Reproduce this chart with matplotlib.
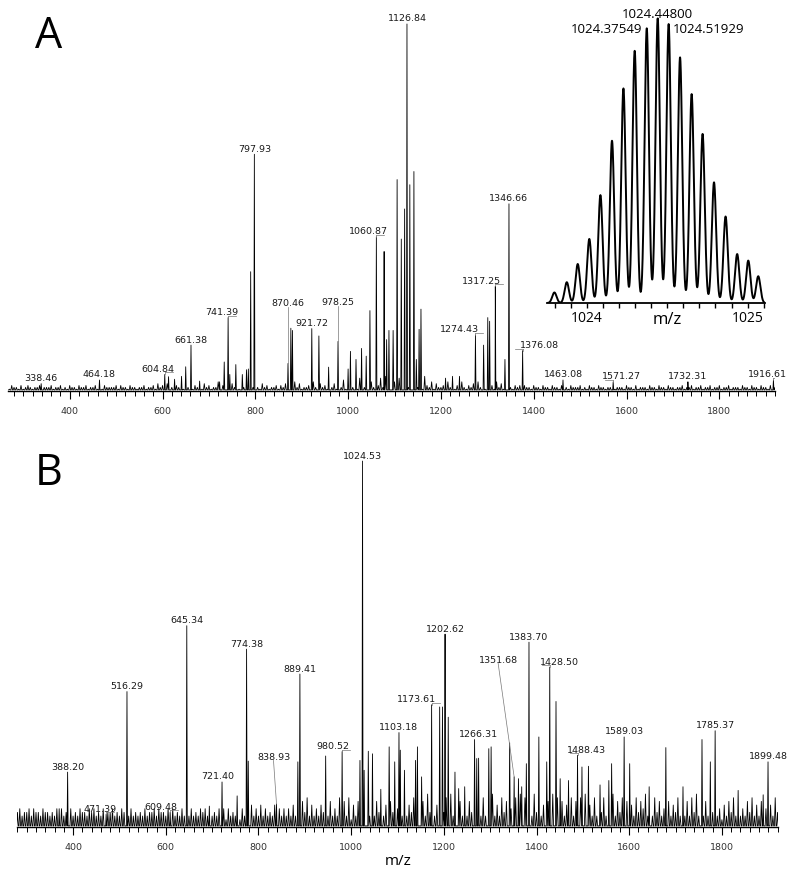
import numpy as np
import matplotlib.pyplot as plt
from matplotlib.ticker import MultipleLocator

plt.rcParams["font.family"] = ["DejaVu Sans"]

# ---------------- 谱图 A ----------------
A_LABELS = ["338.46", "464.18", "604.84", "661.38", "741.39", "797.93", "870.46",
            "921.72", "978.25", "1060.87", "1126.84", "1274.43", "1317.25",
            "1346.66", "1376.08", "1463.08", "1571.27", "1732.31", "1916.61"]
A_LABEL_INT = [2.0, 3.0, 4.5, 12.5, 20, 64.5, 7.5, 17, 13.5, 42, 100, 15.3, 28.5,
               51, 11, 3.0, 2.5, 2.5, 3.0]
# 未标注的峰
A_PEAK_MZ = [613, 626, 641, 650, 680, 723, 733, 745, 758, 772, 781, 785, 790,
             876.6, 880, 937, 958, 1000, 1005, 1017, 1029, 1039, 1047, 1077.6, 1083,
             1088, 1097, 1105.6, 1114.6, 1121.8, 1133, 1141.8, 1147, 1153, 1157,
             1210, 1225, 1240, 1292, 1301, 1305, 1338]
A_PEAK_INT = [3.9, 3.2, 4, 6.6, 2.7, 2.5, 7.9, 4.5, 7.2, 4.5, 5.8, 6, 32.5,
              17.1, 16.5, 15, 6.5, 6, 10.8, 8.6, 11.6, 9.5, 21.9, 38, 14,
              16.5, 16.5, 57.6, 41.4, 49.6, 56.2, 59.8, 8.6, 16.8, 22.3,
              3.5, 4, 4, 12.5, 20, 19, 8.6]
# 基线噪声，从 270 开始每 5 Da 一个点（单位 0.5%）
A_NOISE = ("13221312321223122231" "22312132213223122312" "13222231322132212231"
           "22314231422132412241" "32214231225132214231" "22413252142312231324"
           "23252412232521423152" "41326152241732615223" "72816251732627152418"
           "32514223152413252132" "41526142315241322132" "31322132213221322132"
           "21322231213221322122" "31222132213122213221" "32213221223122312231"
           "22312231223122213221" "32213221322")

# ---------------- 谱图 B ----------------
B_LABELS = ["388.20", "471.39", "516.29", "609.48", "645.34", "721.40", "774.38",
            "838.93", "889.41", "980.52", "1024.53", "1103.18", "1173.61", "1202.62",
            "1266.31", "1351.68", "1383.70", "1428.50", "1488.43", "1589.03",
            "1785.37", "1899.48"]
B_LABEL_INT = [15, 3.5, 37, 4, 55, 12.3, 48.6, 6.3, 41.8, 20.6, 100, 25.8, 33.4, 52.7,
               23.9, 13.7, 50.5, 43.7, 19.6, 24.6, 26.3, 17.8]
B_PEAK_MZ = [370, 694, 754, 778, 885, 945, 1019, 1028, 1037, 1046,
             1064, 1082, 1094, 1106, 1115, 1139, 1143, 1152, 1191, 1197,
             1209.5, 1224, 1232, 1245, 1271, 1275, 1297, 1302, 1342, 1361,
             1368, 1378, 1405, 1422, 1442, 1451, 1469, 1498, 1512, 1537,
             1556, 1562, 1601, 1643, 1679, 1716, 1757, 1775, 1835, 1889]
B_PEAK_INT = [5, 5.7, 8.5, 18, 17.8, 19.4, 18.2, 15.5, 20.7, 20,
              10.3, 21.9, 17.8, 21, 15.5, 18.2, 21.9, 13.7, 32.8, 32.8,
              30, 15, 10.5, 11, 18.7, 18.8, 21.4, 21.9, 23, 13.2,
              11, 17.3, 24.6, 17.8, 34.3, 13.2, 12.7, 16.4, 16.6, 11.5,
              12.7, 17.3, 17.3, 11, 21.7, 11, 23.9, 17.8, 10, 8.8]
# 基线噪声，从 280 开始每 5 Da 一个点（单位 %）
B_NOISE = ("45344535443544343545" "34453435443545343544" "45343544353434353445"
           "35443535343534353435" "45343435352534352536" "46353635343635353536"
           "36374836353648373538" "47382637495836374836" "37485937364835373948"
           "36374859363738374936" "38374936384735383948" "37394836375938373648"
           "37384936383748365937" "48373638475936384735" "37364835373849363738"
           "48352637483635374836" "373536384")

# ---------------- 插图：同位素峰 ----------------
INS_MZ = [1023.799, 1023.876, 1023.944, 1024.016, 1024.085, 1024.157, 1024.228,
          1024.298, 1024.373, 1024.441, 1024.509, 1024.580, 1024.652, 1024.720,
          1024.791, 1024.863, 1024.935, 1025.004, 1025.066]
INS_INT = [3.7, 7.3, 13.7, 22.5, 37.9, 57.0, 75.4, 88.6, 96.5, 100, 98.0, 86.3,
           73.4, 59.4, 42.4, 30.4, 17.2, 14.9, 9.4]
INS_LABELS = ["1024.37549", "1024.44800", "1024.51929"]

# 标签位置微调（像素）
A_SHIFT = {"604.84": -7, "741.39": -6, "1060.87": -8, "1274.43": -16, "1317.25": -14,
           "1376.08": 17, "1571.27": 8, "1916.61": -6}
A_RISE = {"870.46": 58, "978.25": 37}
B_SHIFT = {"471.39": -6, "609.48": -9, "721.40": -4, "980.52": -9, "1173.61": -15,
           "1266.31": 4, "1428.50": 10, "1488.43": 9, "838.93": -3, "1351.68": -16}
B_RISE = {"838.93": 45, "1351.68": 115}


def spikes(mz, inten, half, base):
    # 每个峰画成一个尖峰：左脚-峰顶-右脚
    mz = np.asarray(mz, float)
    inten = np.asarray(inten, float)
    xs = np.concatenate([mz - half, mz, mz + half])
    ys = np.concatenate([np.full(mz.size, base), inten, np.full(mz.size, base)])
    return xs, ys


def draw_panel(ax, labels, label_int, peak_mz, peak_int, noise_start, noise, scale,
               xlim, shift, rise):
    mz_lab = np.array([float(s) for s in labels])
    all_mz = np.concatenate([mz_lab, peak_mz])
    all_int = np.concatenate([label_int, peak_int])
    nx = noise_start + 5.0 * np.arange(len(noise))
    ny = np.array([int(c) for c in noise], float) * scale
    keep = np.abs(nx[:, None] - all_mz[None, :]).min(axis=1) > 2.2
    px, py = spikes(all_mz, all_int, 1.1, 0.3)
    qx, qy = spikes(nx[keep], ny[keep], 1.7, 0.3)
    xs = np.concatenate([qx, px])
    ys = np.concatenate([qy, py])
    o = np.argsort(xs, kind="stable")
    ax.plot(xs[o], ys[o], color="k", lw=0.6)

    ax.set_xlim(*xlim)
    ax.set_ylim(0, 104)
    for s in ["top", "left", "right"]:
        ax.spines[s].set_visible(False)
    ax.spines["bottom"].set_linewidth(1.0)
    ax.set_yticks([])
    ax.xaxis.set_major_locator(MultipleLocator(200))
    ax.xaxis.set_minor_locator(MultipleLocator(20))
    ax.tick_params(axis="x", which="major", length=6, width=0.8, pad=5,
                   labelsize=6.8, labelcolor="#333333")
    ax.tick_params(axis="x", which="minor", length=3.5, width=0.7)

    # 像素 -> 数据单位
    pos = ax.get_position()
    fw, fh = ax.figure.get_size_inches() * ax.figure.dpi
    sx = (xlim[1] - xlim[0]) / (pos.width * fw)
    sy = 104 / (pos.height * fh)
    for s, h in zip(labels, label_int):
        m = float(s)
        dx = shift.get(s, 0)
        up = rise.get(s, 3.5)
        tx, ty = m + dx * sx, h + up * sy
        ax.text(tx, ty, s, ha="center", va="baseline", fontsize=6.8,
                color="#1a1a1a", clip_on=False)
        if s in rise:
            ax.plot([tx, m], [ty - 1.5 * sy, h], color="#777777", lw=0.5)
        elif abs(dx) >= 5:
            yy = ty - 1.5 * sy
            ax.plot([m, m - np.sign(dx) * 8 * sx], [yy, yy], color="#777777", lw=0.5)
            ax.plot([m, m], [h, yy], color="#777777", lw=0.5)


fig = plt.figure(figsize=(8, 8.79), dpi=100)

axA = fig.add_axes([8 / 800, 1 - 392 / 879, 767 / 800, 381.7 / 879])
draw_panel(axA, A_LABELS, A_LABEL_INT, A_PEAK_MZ, A_PEAK_INT, 270, A_NOISE, 0.5,
           (267, 1920), A_SHIFT, A_RISE)

axB = fig.add_axes([17 / 800, 1 - 828 / 879, 761 / 800, 380.6 / 879])
draw_panel(axB, B_LABELS, B_LABEL_INT, B_PEAK_MZ, B_PEAK_INT, 280, B_NOISE, 1.0,
           (279, 1921), B_SHIFT, B_RISE)

fig.text(35 / 800, 1 - 48 / 879, "A", fontsize=31, family="Open Sans", va="baseline")
fig.text(35 / 800, 1 - 485 / 879, "B", fontsize=31, family="Open Sans", va="baseline")
fig.text(398 / 800, 1 - 862 / 879, "m/z", fontsize=11, family="Open Sans",
         ha="center", va="center")

# 插图
ins = fig.add_axes([547 / 800, 1 - 304 / 879, 218 / 800, 296 / 879])
ixlim = (1023.753, 1025.108)
grid = np.linspace(*ixlim, 3000)
prof = np.zeros_like(grid)
for m, h in zip(INS_MZ, INS_INT):
    prof += h * np.exp(-(grid - m) ** 2 / (2 * 0.0135 ** 2))
ins.plot(grid, prof, color="k", lw=1.4)
ins.set_xlim(*ixlim)
ins.set_ylim(0, 104)
ins.patch.set_alpha(0)
for s in ["top", "left", "right"]:
    ins.spines[s].set_visible(False)
ins.spines["bottom"].set_linewidth(1.3)
ins.set_yticks([])
ins.set_xticks([1024, 1025])
ins.xaxis.set_minor_locator(MultipleLocator(0.1))
ins.tick_params(axis="x", which="both", length=3.5, width=1.0, pad=1.5)
for t in ins.get_xticklabels():
    t.set_family("Open Sans")
    t.set_fontsize(10)
fig.text(667 / 800, 1 - 320 / 879, "m/z", fontsize=12, family="Open Sans",
         ha="center", va="center")
ipx = 104 / 296
ins.text(1024.441, 100 + 1.0 * ipx, INS_LABELS[1], ha="center", va="baseline",
         family="Open Sans", fontsize=9.5)
ins.text(1024.373 - 4 / 161, 95.3, INS_LABELS[0], ha="right", va="baseline",
         family="Open Sans", fontsize=9.5)
ins.text(1024.509 + 4 / 161, 95.3, INS_LABELS[2], ha="left", va="baseline",
         family="Open Sans", fontsize=9.5)

fig.savefig("out.png", dpi=100)
